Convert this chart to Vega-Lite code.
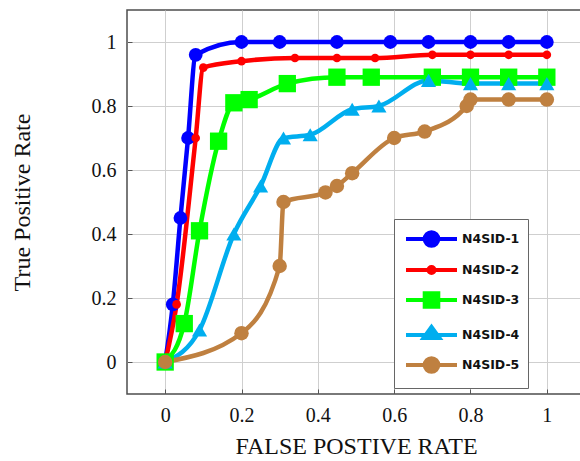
{
  "$schema": "https://vega.github.io/schema/vega-lite/v6.json",
  "autosize": "none",
  "width": 458,
  "height": 384,
  "padding": {"left": 127, "top": 10, "right": 0, "bottom": 67},
  "background": "white",
  "config": {"view": {"stroke": "#4d4d4d", "strokeWidth": 1.5}},
  "data": {"values": [
    {"s": "N4SID-1", "x": 0, "y": 0},
    {"s": "N4SID-1", "x": 0.02, "y": 0.18},
    {"s": "N4SID-1", "x": 0.04, "y": 0.45},
    {"s": "N4SID-1", "x": 0.06, "y": 0.70},
    {"s": "N4SID-1", "x": 0.08, "y": 0.96},
    {"s": "N4SID-1", "x": 0.2, "y": 1.0},
    {"s": "N4SID-1", "x": 0.3, "y": 1.0},
    {"s": "N4SID-1", "x": 0.45, "y": 1.0},
    {"s": "N4SID-1", "x": 0.59, "y": 1.0},
    {"s": "N4SID-1", "x": 0.69, "y": 1.0},
    {"s": "N4SID-1", "x": 0.8, "y": 1.0},
    {"s": "N4SID-1", "x": 0.9, "y": 1.0},
    {"s": "N4SID-1", "x": 1.0, "y": 1.0},
    {"s": "N4SID-2", "x": 0, "y": 0},
    {"s": "N4SID-2", "x": 0.03, "y": 0.18},
    {"s": "N4SID-2", "x": 0.08, "y": 0.70},
    {"s": "N4SID-2", "x": 0.1, "y": 0.92},
    {"s": "N4SID-2", "x": 0.2, "y": 0.94},
    {"s": "N4SID-2", "x": 0.34, "y": 0.95},
    {"s": "N4SID-2", "x": 0.45, "y": 0.95},
    {"s": "N4SID-2", "x": 0.55, "y": 0.95},
    {"s": "N4SID-2", "x": 0.7, "y": 0.96},
    {"s": "N4SID-2", "x": 0.8, "y": 0.96},
    {"s": "N4SID-2", "x": 0.9, "y": 0.96},
    {"s": "N4SID-2", "x": 1.0, "y": 0.96},
    {"s": "N4SID-3", "x": 0, "y": 0},
    {"s": "N4SID-3", "x": 0.05, "y": 0.12},
    {"s": "N4SID-3", "x": 0.09, "y": 0.41},
    {"s": "N4SID-3", "x": 0.14, "y": 0.69},
    {"s": "N4SID-3", "x": 0.18, "y": 0.81},
    {"s": "N4SID-3", "x": 0.22, "y": 0.82},
    {"s": "N4SID-3", "x": 0.32, "y": 0.87},
    {"s": "N4SID-3", "x": 0.45, "y": 0.89},
    {"s": "N4SID-3", "x": 0.54, "y": 0.89},
    {"s": "N4SID-3", "x": 0.7, "y": 0.89},
    {"s": "N4SID-3", "x": 0.8, "y": 0.89},
    {"s": "N4SID-3", "x": 0.9, "y": 0.89},
    {"s": "N4SID-3", "x": 1.0, "y": 0.89},
    {"s": "N4SID-4", "x": 0, "y": 0},
    {"s": "N4SID-4", "x": 0.09, "y": 0.10},
    {"s": "N4SID-4", "x": 0.18, "y": 0.40},
    {"s": "N4SID-4", "x": 0.25, "y": 0.55},
    {"s": "N4SID-4", "x": 0.31, "y": 0.70},
    {"s": "N4SID-4", "x": 0.38, "y": 0.71},
    {"s": "N4SID-4", "x": 0.49, "y": 0.79},
    {"s": "N4SID-4", "x": 0.56, "y": 0.80},
    {"s": "N4SID-4", "x": 0.69, "y": 0.88},
    {"s": "N4SID-4", "x": 0.8, "y": 0.87},
    {"s": "N4SID-4", "x": 0.9, "y": 0.87},
    {"s": "N4SID-4", "x": 1.0, "y": 0.87},
    {"s": "N4SID-5", "x": 0, "y": 0},
    {"s": "N4SID-5", "x": 0.2, "y": 0.09},
    {"s": "N4SID-5", "x": 0.3, "y": 0.30},
    {"s": "N4SID-5", "x": 0.31, "y": 0.50},
    {"s": "N4SID-5", "x": 0.42, "y": 0.53},
    {"s": "N4SID-5", "x": 0.45, "y": 0.55},
    {"s": "N4SID-5", "x": 0.49, "y": 0.59},
    {"s": "N4SID-5", "x": 0.6, "y": 0.70},
    {"s": "N4SID-5", "x": 0.68, "y": 0.72},
    {"s": "N4SID-5", "x": 0.79, "y": 0.80},
    {"s": "N4SID-5", "x": 0.8, "y": 0.82},
    {"s": "N4SID-5", "x": 0.9, "y": 0.82},
    {"s": "N4SID-5", "x": 1.0, "y": 0.82}
  ]},
  "encoding": {
    "x": {
      "field": "x", "type": "quantitative",
      "scale": {"domain": [-0.1, 1.1], "nice": false, "zero": false},
      "axis": {
        "values": [0, 0.2, 0.4, 0.6, 0.8, 1], "format": "~g",
        "grid": true, "gridColor": "#cfcfcf", "gridWidth": 1,
        "domain": false, "ticks": true, "tickSize": -5, "tickColor": "#555",
        "labelFont": "Liberation Serif", "labelFontSize": 20, "labelColor": "#111", "labelPadding": 16,
        "title": "FALSE POSTIVE RATE", "titleFont": "Liberation Serif", "titleFontSize": 24,
        "titleFontWeight": "normal", "titleColor": "#111",
        "titleX": 229, "titleY": 59, "titleBaseline": "alphabetic", "titleAlign": "center"
      }
    },
    "y": {
      "field": "y", "type": "quantitative",
      "scale": {"domain": [-0.1, 1.1], "nice": false, "zero": false},
      "axis": {
        "values": [0, 0.2, 0.4, 0.6, 0.8, 1], "format": "~g",
        "grid": true, "gridColor": "#cfcfcf", "gridWidth": 1,
        "domain": false, "ticks": true, "tickSize": -5, "tickColor": "#555",
        "labelFont": "Liberation Serif", "labelFontSize": 20, "labelColor": "#111", "labelPadding": 16,
        "title": "True Positive Rate", "titleFont": "Liberation Serif", "titleFontSize": 24,
        "titleFontWeight": "normal", "titleColor": "#111",
        "titleX": -105, "titleY": 192, "titleAngle": -90, "titleBaseline": "middle", "titleAlign": "center"
      }
    },
    "color": {
      "field": "s", "type": "nominal",
      "scale": {"domain": ["N4SID-1", "N4SID-2", "N4SID-3", "N4SID-4", "N4SID-5"],
                "range": ["#0000ff", "#ff0000", "#00ff00", "#00aeef", "#bf8040"]},
      "legend": {
        "orient": "none", "legendX": 267, "legendY": 209,
        "title": null,
        "strokeColor": "#666", "fillColor": "white", "padding": 8, "cornerRadius": 0,
        "rowPadding": 4, "symbolSize": 400, "symbolStrokeWidth": 4, "labelOffset": 36,
        "labelFont": "DejaVu Sans", "labelFontWeight": "bold", "labelFontSize": 12.5, "labelColor": "#111",
        "labelExpr": "datum.label + '\u00a0\u00a0\u00a0\u00a0\u00a0\u00a0\u00a0\u00a0\u00a0\u00a0'",
        "encode": {
          "symbols": {"update": {
            "x": {"value": 29.5},
            "size": {"value": 400},
            "shape": {"signal": "datum.value === 'N4SID-1' ? 'M-2.55,0H2.55M-0.68,0A0.68,0.68,0,1,1,0.68,0A0.68,0.68,0,1,1,-0.68,0Z' : datum.value === 'N4SID-2' ? 'M-2.55,0H2.55M-0.3,0A0.3,0.3,0,1,1,0.3,0A0.3,0.3,0,1,1,-0.3,0Z' : datum.value === 'N4SID-3' ? 'M-2.55,0H2.55M-0.68,-0.68H0.68V0.68H-0.68Z' : datum.value === 'N4SID-4' ? 'M-2.55,0H2.55M-0.8,0.3L0,-0.8L0.8,0.3Z' : 'M-2.55,0H2.55M-0.68,0A0.68,0.68,0,1,1,0.68,0A0.68,0.68,0,1,1,-0.68,0Z'"},
            "fill": {"signal": "scale('color', datum.value)"},
            "stroke": {"signal": "scale('color', datum.value)"},
            "strokeWidth": {"value": 4},
            "opacity": {"value": 1},
            "fillOpacity": {"value": 1}
          }}
        }
      }
    }
  },
  "layer": [
    {"mark": {"type": "line", "interpolate": "monotone", "strokeWidth": 4.5}},
    {"transform": [{"filter": "datum.s === 'N4SID-1'"}],
     "mark": {"type": "point", "filled": true, "opacity": 1, "shape": "circle", "size": 190}},
    {"transform": [{"filter": "datum.s === 'N4SID-2'"}],
     "mark": {"type": "point", "filled": true, "opacity": 1, "shape": "circle", "size": 75}},
    {"transform": [{"filter": "datum.s === 'N4SID-3'"}],
     "mark": {"type": "point", "filled": true, "opacity": 1, "shape": "square", "size": 300}},
    {"transform": [{"filter": "datum.s === 'N4SID-4'"}],
     "mark": {"type": "point", "filled": true, "opacity": 1, "shape": "triangle-up", "size": 230}},
    {"transform": [{"filter": "datum.s === 'N4SID-5'"}],
     "mark": {"type": "point", "filled": true, "opacity": 1, "shape": "circle", "size": 210}}
  ]
}
